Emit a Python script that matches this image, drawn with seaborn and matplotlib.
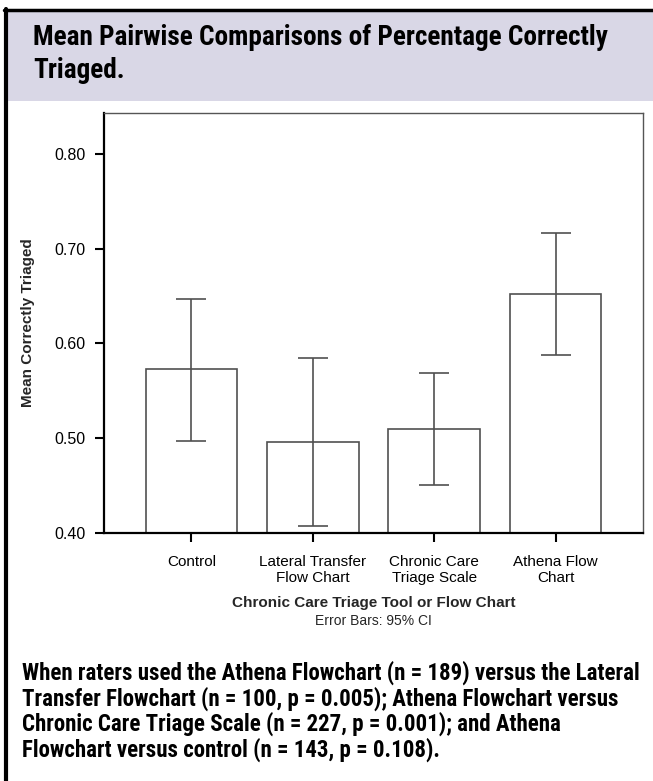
import matplotlib
matplotlib.use("Agg")
import matplotlib.pyplot as plt
from matplotlib.patches import Rectangle
from matplotlib.lines import Line2D
import seaborn as sns
import pandas as pd

# values
groups = ["Control", "Lateral Transfer\nFlow Chart", "Chronic Care\nTriage Scale", "Athena Flow\nChart"]
means = [0.573, 0.496, 0.510, 0.652]
ci_low = [0.497, 0.407, 0.451, 0.588]
ci_high = [0.647, 0.585, 0.569, 0.716]
yticks = [0.40, 0.50, 0.60, 0.70, 0.80]

title_lines = ["Mean Pairwise Comparisons of Percentage Correctly", "Triaged."]
note_lines = [
    "When raters used the Athena Flowchart (n = 189) versus the Lateral",
    "Transfer Flowchart (n = 100, p = 0.005); Athena Flowchart versus",
    "Chronic Care Triage Scale (n = 227, p = 0.001); and Athena",
    "Flowchart versus control (n = 143, p = 0.108).",
]

sns.set_theme(style="ticks")
plt.rcParams["font.family"] = ["Liberation Sans", "DejaVu Sans"]
cond = ["Roboto Condensed", "DejaVu Sans"]

W, H = 653, 781
fig = plt.figure(figsize=(W / 100, H / 100), dpi=100)
fig.patch.set_facecolor("white")

# header band and frame
fig.patches.append(Rectangle((6 / W, 1 - 101 / H), 1, 91 / H, transform=fig.transFigure,
                             facecolor="#d9d7e6", edgecolor="none", zorder=0))
fig.lines.append(Line2D([4 / W, 1], [1 - 9.5 / H] * 2, transform=fig.transFigure, color="black", lw=2.5))
fig.lines.append(Line2D([6 / W] * 2, [0, 1 - 8.5 / H], transform=fig.transFigure, color="black", lw=3))


def fit_block(lines, x0, base0, step, width, first_size):
    """Condensed bold text block, sized so the first line spans `width` px."""
    texts = [fig.text(x0 / W, 1 - (base0 + step * i) / H, s, family=cond, fontstretch="condensed",
                      weight="bold", fontsize=first_size, color="black", va="baseline", ha="left")
             for i, s in enumerate(lines)]
    r = fig.canvas.get_renderer()
    w = texts[0].get_window_extent(renderer=r).width
    for t in texts:
        t.set_fontsize(first_size * width / w)
    return texts


fit_block(title_lines, 33, 45, 33, 576, 16)

df = pd.DataFrame({"group": groups, "mean": means})
ax = fig.add_axes([104 / W, 1 - 533 / H, (643 - 104) / W, (533 - 113) / H])
sns.barplot(data=df, x="group", y="mean", order=groups, color="white", width=0.755,
            edgecolor="#505050", linewidth=1.2, errorbar=None, ax=ax)
xs = ax.get_xticks()
err = [[m - lo for m, lo in zip(means, ci_low)], [hi - m for m, hi in zip(means, ci_high)]]
ax.errorbar(xs, means, yerr=err, fmt="none", ecolor="#505050", elinewidth=1.2,
            capsize=10.5, capthick=1.2)

ax.set_xlim(-0.72, 3.72)
ax.set_ylim(0.40, 0.843)
ax.set_yticks(yticks)
ax.set_yticklabels([f"{v:.2f}" for v in yticks])
ax.tick_params(axis="both", direction="out", length=6.5, width=1.5, colors="black")
ax.tick_params(axis="x", pad=9, labelsize=11)
ax.tick_params(axis="y", pad=7, labelsize=11.5)
ax.set_ylabel("Mean Correctly Triaged", fontsize=11, weight="bold", labelpad=14)
ax.set_xlabel("Chronic Care Triage Tool or Flow Chart", fontsize=11, weight="bold", labelpad=8)
for s in ["left", "bottom"]:
    ax.spines[s].set_color("black")
    ax.spines[s].set_linewidth(1.6)
for s in ["top", "right"]:
    ax.spines[s].set_color("#555555")
    ax.spines[s].set_linewidth(1.0)
ax.set_facecolor("white")

fig.text((104 + 643) / 2 / W, 1 - 621 / H, "Error Bars: 95% CI", fontsize=10,
         ha="center", va="center")

fit_block(note_lines, 22, 680, 25.5, 614, 13)

fig.savefig("out.png", dpi=100, facecolor="white")
